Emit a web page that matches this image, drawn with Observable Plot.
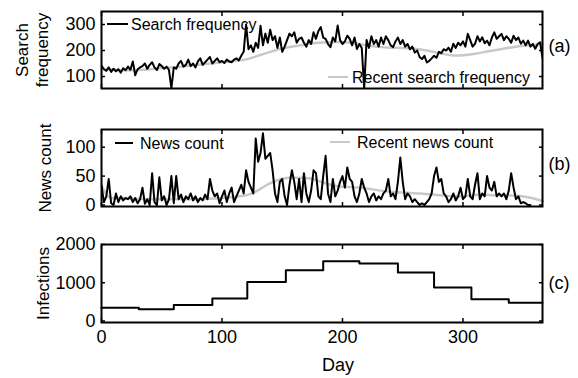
<!DOCTYPE html>
<html><head><meta charset="utf-8">
<script src="https://cdn.jsdelivr.net/npm/d3@7"></script>
<script src="https://cdn.jsdelivr.net/npm/@observablehq/plot@0.6"></script>
<style>
body{margin:0;background:#fff;}
#chart{position:relative;width:578px;height:378px;font-family:"Liberation Sans",Arial,sans-serif;background:#fff;}
#chart svg{position:absolute;left:0;}
</style></head><body><div id="chart"></div>
<script>
// ---- Data ----
// Search frequency, every 2 days (day = index*2)
const searchFreq = [142,128,122,135,118,130,120,128,115,132,124,138,126,158,105,128,135,
140,150,130,145,155,135,125,148,140,130,138,125,
55,
135,130,150,160,138,145,165,140,150,135,158,170,145,155,165,175,150,160,170,155,160,152,165,158,155,165,170,162,180,195,
300,205,220,195,230,210,295,220,265,230,280,240,255,210,250,195,215,240,265,255,270,230,245,
250,230,215,240,225,270,245,275,290,250,245,225,213,250,235,296,240,225,235,257,245,220,250,206,225,210,
55,
240,210,255,225,240,215,250,225,255,240,220,213,235,250,225,240,215,225,205,215,192,200,175,167,180,154,160,170,180,172,195,190,205,200,211,195,226,210,230,220,235,215,264,240,215,226,255,235,251,228,238,220,250,270,245,255,264,240,255,245,230,257,240,250,226,238,220,238,215,225,207,225,232,172];
// Recent search frequency (smoothed)
const recentSearchDays = [0,10,20,30,40,50,60,70,80,90,100,110,120,130,140,150,160,170,180,190,200,210,220,230,240,250,260,270,280,290,300,310,320,330,340,350,360,366];
const recentSearch = [130,127,124,125,128,132,136,140,145,150,155,160,166,180,195,208,216,224,230,232,232,228,220,214,211,210,207,200,190,182,182,188,196,204,212,218,222,226];
// News count, every 2 days (day = index*2)
const newsCount = [34,5,15,45,3,0,20,5,15,8,
12,10,15,5,12,3,10,30,2,10,
0,55,5,0,48,8,15,0,10,50,
3,50,10,18,5,15,10,20,8,15,
5,12,8,18,10,45,25,15,20,3,
15,25,5,20,30,5,15,25,35,20,
60,40,30,20,115,75,90,124,80,85,
90,60,20,5,40,45,15,0,35,60,
40,10,45,5,
55,20,5,25,60,55,15,10,50,85,
20,5,45,15,25,40,50,30,65,45,
40,15,5,20,45,30,20,5,15,20,
8,15,10,20,25,45,15,20,10,40,
82,40,10,20,15,5,10,5,0,3,
0,5,10,20,50,65,40,45,20,15,
5,10,20,8,15,30,10,15,45,15,
10,35,55,10,20,15,50,30,25,40,
15,20,15,20,10,25,55,30,10,15,
3,5,3,0,0];
const recentNewsDays = [0,6,15,30,45,60,75,90,105,115,125,135,145,155,165,175,185,195,205,215,225,235,245,255,265,275,285,295,305,315,325,335,345,355,366];
const recentNews = [33,14,12,11,10,10,10,11,13,15,20,32,42,47,47,45,38,33,31,30,27,24,22,21,20,18,16,15,16,18,17,17,16,13,7];
// Infections (monthly steps)
const infectionDays = [0,31,60,92,121,153,184,214,246,276,307,338,366];
const infections = [345,305,415,590,1020,1325,1560,1500,1265,875,565,475,475];

const xTicks = [0,100,200,300];
const searchTicks = [100,200,300];
const newsTicks = [0,50,100];
const infTicks = [0,1000,2000];

// ---- Tables ----
const searchData = searchFreq.map((v,i)=>({day:i*2, v}));
const recentSearchData = recentSearch.map((v,i)=>({day:recentSearchDays[i], v}));
const newsData = newsCount.map((v,i)=>({day:i*2, v}));
const recentNewsData = recentNews.map((v,i)=>({day:recentNewsDays[i], v}));
const infData = infections.map((v,i)=>({day:infectionDays[i], v}));

const FONT = '"Liberation Sans", Arial, sans-serif';
const GRAY = "#c8c8c8";
const chart = document.getElementById("chart");
const fmt = d => String(d);

function panel({top, height, mb, yDomain, yTicks, marks, ylabel, ylabelDx, tag, tagDy, xLabels}) {
  const m = [
    ...marks,
    Plot.frame({stroke:"black", strokeWidth:2}),
    Plot.axisY(yTicks, {anchor:"left", tickSize:-4, tickPadding:10, strokeWidth:1.5, fontSize:18, label:null, tickFormat:fmt}),
    Plot.axisY(yTicks, {anchor:"right", tickSize:-4, tickFormat:()=>"", strokeWidth:1.5, label:null}),
    Plot.axisX(xTicks, {anchor:"top", tickSize:-4, tickFormat:()=>"", strokeWidth:1.5, label:null}),
    Plot.axisX(xTicks, {anchor:"bottom", tickSize:-4, tickPadding:12, strokeWidth:1.5, fontSize:18, label:null,
      tickFormat: xLabels ? fmt : (()=>"")}),
    Plot.text([ylabel], {text:d=>d, frameAnchor:"left", dx:ylabelDx, rotate:-90, textAnchor:"middle", lineAnchor:"middle", fontSize:17, lineHeight:1.2, fill:"black"}),
    Plot.text([tag], {text:d=>d, frameAnchor:"right", dx:6, dy:tagDy, textAnchor:"start", fontSize:18, fill:"black"})
  ];
  if (xLabels) m.push(Plot.text(["Day"], {text:d=>d, frameAnchor:"bottom", textAnchor:"middle", lineAnchor:"top", dy:36, dx:16, fontSize:18, fill:"black"}));
  const svg = Plot.plot({
    width:578, height, marginLeft:101, marginRight:36, marginTop:11, marginBottom:mb,
    style:{fontFamily:FONT, fontSize:"18px", background:"transparent", color:"black", overflow:"visible"},
    x:{domain:[0,366]},
    y:{domain:yDomain},
    marks:m
  });
  svg.style.top = top + "px";
  chart.appendChild(svg);
  return d3.select(svg);
}

function legendItem(sel, x1, x2, y, color, label, tx) {
  sel.append("line").attr("x1",x1).attr("x2",x2).attr("y1",y).attr("y2",y)
    .attr("stroke",color).attr("stroke-width",2);
  sel.append("text").attr("x",tx).attr("y",y).attr("dy","0.35em").attr("text-anchor","start")
    .attr("font-family",FONT).attr("font-size",16).attr("fill","black").text(label);
}

// (a)
const a = panel({top:0, height:95, mb:7, yDomain:[54,350], yTicks:searchTicks,
  ylabel:"Search\nfrequency", ylabelDx:-70, tag:"(a)", tagDy:-4,
  marks:[
    Plot.line(recentSearchData, {x:"day", y:"v", stroke:GRAY, strokeWidth:2.5, curve:"natural"}),
    Plot.line(searchData, {x:"day", y:"v", stroke:"black", strokeWidth:2, clip:true})
  ]});
legendItem(a, 107, 128, 24, "black", "Search frequency", 131);
legendItem(a, 328, 348, 77, GRAY, "Recent search frequency", 352);

// (b)
const b = panel({top:118, height:95, mb:7, yDomain:[-2.6,130.6], yTicks:newsTicks,
  ylabel:"News count", ylabelDx:-57, tag:"(b)", tagDy:-4,
  marks:[
    Plot.line(recentNewsData, {x:"day", y:"v", stroke:GRAY, strokeWidth:2.5, curve:"natural"}),
    Plot.line(newsData, {x:"day", y:"v", stroke:"black", strokeWidth:2, clip:true})
  ]});
legendItem(b, 115, 133, 25, "black", "News count", 140);
legendItem(b, 330, 350, 24, GRAY, "Recent news count", 357);

// (c)
panel({top:233, height:145, mb:56, yDomain:[-40,2000], yTicks:infTicks,
  ylabel:"Infections", ylabelDx:-59, tag:"(c)", tagDy:0, xLabels:true,
  marks:[
    Plot.line(infData, {x:"day", y:"v", stroke:"black", strokeWidth:2, curve:"step-after"})
  ]});
</script></body></html>
